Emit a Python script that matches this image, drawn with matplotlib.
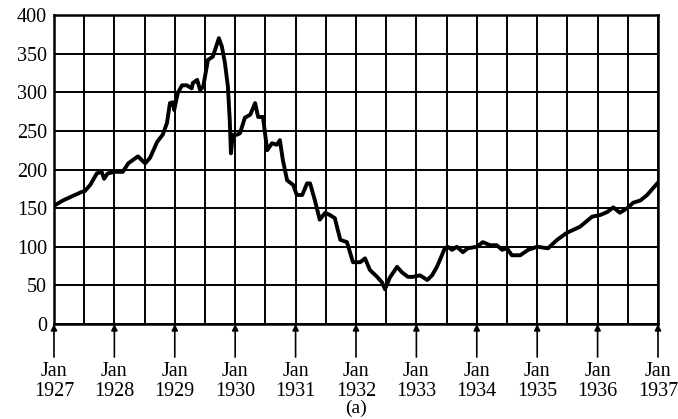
import matplotlib.pyplot as plt
import numpy as np

# monthly-ish index readings (decimal year, value)
years = [1927.00, 1927.15, 1927.46, 1927.51, 1927.60, 1927.71, 1927.79, 1927.83, 1927.89,
         1928.01, 1928.14, 1928.23, 1928.39, 1928.51, 1928.59, 1928.71, 1928.80, 1928.87,
         1928.92, 1928.97, 1928.99, 1929.05, 1929.12, 1929.20, 1929.28, 1929.30, 1929.37,
         1929.42, 1929.47, 1929.55, 1929.63, 1929.73, 1929.78, 1929.83, 1929.88, 1929.91,
         1929.93, 1929.96, 1930.03, 1930.08, 1930.16, 1930.25, 1930.33, 1930.38, 1930.46,
         1930.53, 1930.61, 1930.69, 1930.74, 1930.79, 1930.86, 1930.96, 1931.02, 1931.11,
         1931.19, 1931.24, 1931.32, 1931.40, 1931.49, 1931.57, 1931.65, 1931.74, 1931.85,
         1931.95, 1932.07, 1932.15, 1932.23, 1932.35, 1932.43, 1932.48, 1932.56, 1932.68,
         1932.76, 1932.86, 1932.94, 1933.06, 1933.18, 1933.26, 1933.34, 1933.39, 1933.47,
         1933.52, 1933.59, 1933.67, 1933.77, 1933.85, 1934.00, 1934.10, 1934.22, 1934.33,
         1934.42, 1934.50, 1934.58, 1934.72, 1934.85, 1935.00, 1935.18, 1935.33, 1935.49,
         1935.71, 1935.91, 1936.04, 1936.16, 1936.26, 1936.37, 1936.49, 1936.59, 1936.71,
         1936.82, 1936.92, 1937.00]
values = [153, 160, 171, 172, 180, 195, 197, 188, 195,
          197, 197, 208, 217, 208, 215, 236, 245, 260,
          286, 287, 277, 299, 309, 309, 305, 312, 316,
          303, 307, 342, 346, 370, 359, 338, 307, 264,
          221, 245, 245, 247, 267, 271, 286, 268, 268,
          225, 234, 232, 238, 212, 186, 180, 167, 167,
          182, 182, 160, 135, 144, 141, 137, 109, 106,
          80, 80, 85, 70, 61, 54, 45, 60, 74,
          67, 61, 61, 63, 57, 63, 74, 83, 98,
          100, 96, 100, 93, 98, 100, 106, 102, 102,
          96, 98, 89, 89, 96, 100, 98, 109, 118,
          126, 139, 141, 145, 151, 144, 150, 157, 160,
          167, 176, 183]

label_years = list(range(1927, 1938))
y_ticks = [0, 50, 100, 150, 200, 250, 300, 350, 400]

serif = 'Liberation Serif'
fig = plt.figure(figsize=(6.78, 4.19), dpi=100)
ax = fig.add_axes([0.0796, 0.2267, 0.8909, 0.7375])

ax.plot(years, values, color='black', lw=2.8, solid_joinstyle='round', zorder=3)

ax.set_xlim(1927, 1937)
ax.set_ylim(0, 400)
ax.set_xticks(np.arange(1927, 1937.01, 0.5))
ax.set_yticks(y_ticks)
ax.grid(True, color='black', lw=1.4)
ax.tick_params(length=0, bottom=False, labelbottom=False, pad=5)
for lab in ax.get_yticklabels():
    lab.set_fontfamily(serif)
    lab.set_fontsize(14.5)
for sp in ax.spines.values():
    sp.set_linewidth(1.8)

# arrows and labels under the Jan lines
for yr in label_years:
    ax.annotate('', xy=(yr, 0), xycoords=('data', 'axes fraction'),
                xytext=(yr, -0.107), textcoords=('data', 'axes fraction'),
                arrowprops=dict(arrowstyle='-|>', color='black', lw=1.2,
                                mutation_scale=9, shrinkA=0, shrinkB=0),
                annotation_clip=False)
    ax.text(yr, -0.122, 'Jan\n%d' % yr, transform=ax.get_xaxis_transform(),
            ha='center', va='top', fontsize=14.5, family=serif, linespacing=1.1)

fig.text(0.5252, 0.004, '(a)', ha='center', va='bottom', fontsize=14, family=serif)

fig.savefig('out.png')
